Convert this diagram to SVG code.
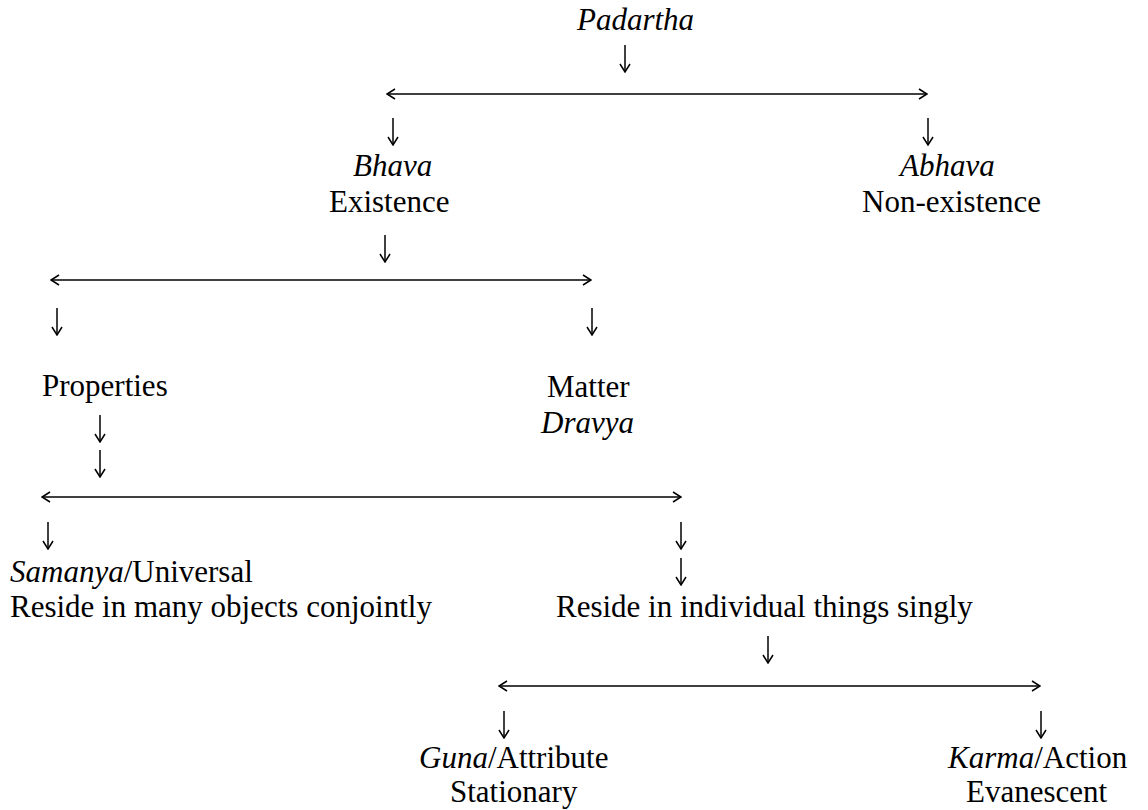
<svg xmlns="http://www.w3.org/2000/svg" width="1148" height="810" viewBox="0 0 1148 810">
<style>
text{font-family:"Liberation Serif","Times New Roman","DejaVu Serif",serif;font-size:31px;fill:#000}
.i{font-style:italic}
.ln{stroke:#000;stroke-width:1.5;fill:none}
.d{marker-end:url(#ah)}
.h{marker-start:url(#ahs);marker-end:url(#ah)}
</style>
<defs>
<marker id="ah" markerUnits="userSpaceOnUse" viewBox="0 0 10 12" refX="9" refY="6" markerWidth="10" markerHeight="12" orient="auto">
<path d="M1,1 L9,6 L1,11" fill="none" stroke="#000" stroke-width="1.5"/>
</marker>
<marker id="ahs" markerUnits="userSpaceOnUse" viewBox="0 0 10 12" refX="9" refY="6" markerWidth="10" markerHeight="12" orient="auto-start-reverse">
<path d="M1,1 L9,6 L1,11" fill="none" stroke="#000" stroke-width="1.5"/>
</marker>
</defs>
<rect width="1148" height="810" fill="#fff"/>
<g id="connectors">
<line class="ln d" x1="625" y1="45" x2="625" y2="72"/>
<line class="ln h" x1="387" y1="94" x2="927" y2="94"/>
<line class="ln d" x1="393" y1="118" x2="393" y2="145"/>
<line class="ln d" x1="928" y1="118" x2="928" y2="145"/>
<line class="ln d" x1="385" y1="235" x2="385" y2="262"/>
<line class="ln h" x1="51" y1="280" x2="591" y2="280"/>
<line class="ln d" x1="57" y1="308" x2="57" y2="335"/>
<line class="ln d" x1="592" y1="308" x2="592" y2="335"/>
<line class="ln d" x1="100" y1="415" x2="100" y2="442"/>
<line class="ln d" x1="100" y1="450" x2="100" y2="477"/>
<line class="ln h" x1="42" y1="497" x2="681" y2="497"/>
<line class="ln d" x1="48" y1="522" x2="48" y2="549"/>
<line class="ln d" x1="681" y1="522" x2="681" y2="549"/>
<line class="ln d" x1="681" y1="558" x2="681" y2="585"/>
<line class="ln d" x1="768" y1="636" x2="768" y2="663"/>
<line class="ln h" x1="499" y1="686" x2="1040" y2="686"/>
<line class="ln d" x1="504" y1="711" x2="504" y2="738"/>
<line class="ln d" x1="1041" y1="711" x2="1041" y2="738"/>
</g>
<g id="padartha"><text class="i" x="577" y="30">Padartha</text></g>
<g id="bhava"><text class="i" x="353" y="176">Bhava</text><text x="329" y="212">Existence</text></g>
<g id="abhava"><text class="i" x="900" y="176">Abhava</text><text x="862" y="212">Non-existence</text></g>
<g id="properties"><text x="42" y="396">Properties</text></g>
<g id="matter"><text x="547" y="397">Matter</text><text class="i" x="541" y="433">Dravya</text></g>
<g id="samanya"><text x="10" y="582"><tspan class="i">Samanya</tspan>/Universal</text><text x="10" y="617">Reside in many objects conjointly</text></g>
<g id="individual"><text x="556" y="617">Reside in individual things singly</text></g>
<g id="guna"><text x="419" y="768"><tspan class="i">Guna</tspan>/Attribute</text><text x="450" y="802">Stationary</text></g>
<g id="karma"><text x="948" y="768"><tspan class="i">Karma</tspan>/Action</text><text x="966" y="802">Evanescent</text></g>
</svg>
